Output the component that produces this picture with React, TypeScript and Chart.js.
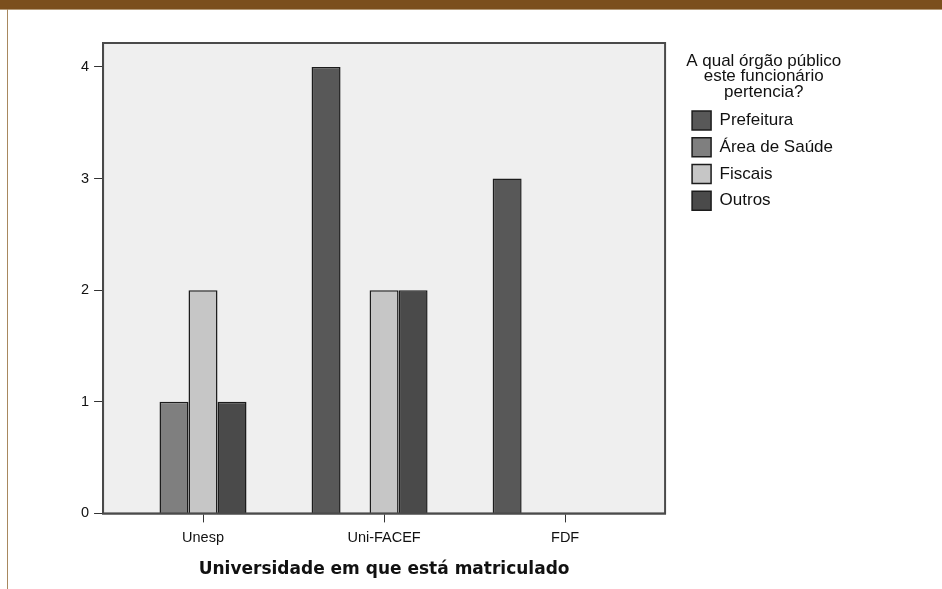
import React, { useEffect, useRef } from "react";
import { Chart, registerables } from "chart.js";

Chart.register(...registerables);

const categories = ["Unesp", "Uni-FACEF", "FDF"];
const seriesNames = ["Prefeitura", "Área de Saúde", "Fiscais", "Outros", ""];
const prefeitura = [0, 4, 3];
const areaSaude = [1, 0, 0];
const fiscais = [2, 2, 0];
const outros = [1, 2, 0];
const semResposta = [0, 0, 0];
const seriesColors = ["#585858", "#7f7f7f", "#c6c6c6", "#4a4a4a", "#2a2a2a"];
const yTickStep = 1;
const yMax = 4.215;
const xMin = -0.552;
const xMax = 2.552;
const legendTitle = ["A qual órgão público", "este funcionário", "pertencia?"];
const xTitle = "Universidade em que está matriculado";

const SANS = "'Liberation Sans', Arial, sans-serif";

const plotFrame = {
  id: "plotFrame",
  beforeDraw(chart: any) {
    const { ctx, chartArea } = chart;
    ctx.save();
    ctx.fillStyle = "#efefef";
    ctx.fillRect(chartArea.left, chartArea.top, chartArea.width, chartArea.height);
    ctx.restore();
  },
  afterDatasetsDraw(chart: any) {
    const { ctx, chartArea } = chart;
    ctx.save();
    ctx.strokeStyle = "#4a4a4a";
    ctx.lineWidth = 2;
    ctx.strokeRect(chartArea.left, chartArea.top, chartArea.width, chartArea.height);
    ctx.restore();
  },
};

export default function App() {
  const ref = useRef<HTMLCanvasElement>(null);
  useEffect(() => {
    if (!ref.current) return;
    const values = [prefeitura, areaSaude, fiscais, outros, semResposta];
    const chart = new Chart(ref.current, {
      type: "bar",
      data: {
        datasets: values.map((v, i) => ({
          label: seriesNames[i],
          data: v.map((y, idx) => ({ x: idx, y })),
          backgroundColor: seriesColors[i],
          borderColor: "#1c1c1c",
          borderWidth: 1.5,
          categoryPercentage: 0.801,
          barPercentage: 1,
        })),
      },
      options: {
        responsive: false,
        animation: false,
        devicePixelRatio: 1,
        layout: { padding: { left: 76, right: 99, top: 43, bottom: 5.3 } },
        plugins: {
          tooltip: { enabled: false },
          legend: {
            position: "right",
            align: "start",
            maxWidth: 300,
            labels: {
              boxWidth: 19,
              boxHeight: 19,
              padding: 7.7,
              color: "#111",
              font: { family: SANS, size: 17 },
              filter: (item: any) => item.text !== "",
            },
            title: {
              display: true,
              text: legendTitle,
              color: "#111",
              font: { family: SANS, size: 17, lineHeight: 0.93 },
              padding: { top: 9.5, bottom: 35.1 },
            },
          },
        },
        scales: {
          x: {
            type: "linear",
            min: xMin,
            max: xMax,
            offset: false,
            grid: { display: true, offset: false, drawOnChartArea: false, tickLength: 9, color: "#333" },
            border: { display: true, color: "#333", width: 1.5 },
            ticks: {
              stepSize: 1,
              includeBounds: false,
              autoSkip: false,
              maxRotation: 0,
              color: "#111",
              padding: 7,
              font: { family: SANS, size: 14.5 },
              callback: (val: any) => categories[Math.round(Number(val))] ?? "",
            },
            title: {
              display: true,
              text: xTitle,
              color: "#111",
              font: { family: "'DejaVu Sans', sans-serif", size: 17, weight: "bold" },
              padding: { top: 5.5, bottom: 4 },
            },
          },
          y: {
            min: 0,
            max: yMax,
            grid: { display: true, drawOnChartArea: false, tickLength: 9, color: "#333" },
            border: { display: true, color: "#333", width: 1.5 },
            ticks: {
              stepSize: yTickStep,
              includeBounds: false,
              color: "#111",
              padding: 5,
              font: { family: SANS, size: 14.5 },
            },
          },
          gap: {
            type: "linear",
            position: "right",
            display: true,
            grid: { display: false },
            border: { display: false },
            ticks: { display: false },
            afterFit: (s: any) => {
              s.width = 19.3;
            },
          },
        },
      } as any,
      plugins: [plotFrame],
    });
    return () => chart.destroy();
  }, []);

  return (
    <div
      style={{
        position: "fixed",
        left: 0,
        top: 0,
        width: 942,
        height: 589,
        background: "#ffffff",
        overflow: "hidden",
      }}
    >
      <div style={{ position: "absolute", left: 0, top: 0, width: 942, height: 9, background: "#7b4f1d" }} />
      <div style={{ position: "absolute", left: 0, top: 9, width: 942, height: 1, background: "#b49a78" }} />
      <div style={{ position: "absolute", left: 7, top: 9, width: 1, height: 580, background: "#a8885f" }} />
      <canvas ref={ref} width={942} height={589} style={{ position: "absolute", left: 0, top: 0 }} />
    </div>
  );
}
